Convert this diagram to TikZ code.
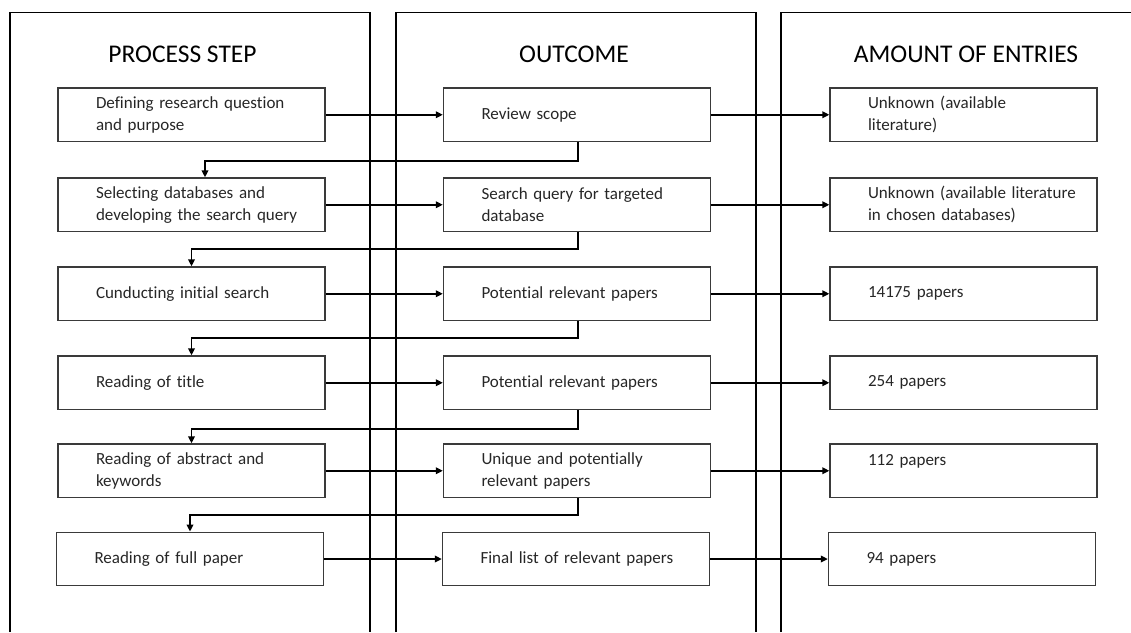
\documentclass[tikz,border=0pt]{standalone}
\usepackage{fontspec}
\setmainfont{Carlito}[Ligatures=NoCommon]
\usetikzlibrary{arrows.meta}
\definecolor{boxline}{HTML}{3A3A3A}
\definecolor{txt}{HTML}{262626}
\newcommand{\bxl}[1]{\mbox{#1}}
\tikzset{
  colline/.style={line width=1.2pt, draw=black},
  heading/.style={font=\fontsize{25.5}{30}\selectfont, text=black, anchor=base, inner sep=0pt},
  stepbox/.style={draw=boxline, line width=1.3pt, minimum height=53.5pt, inner xsep=38pt, inner ysep=0pt,
     text width=191pt, align=left, font=\fontsize{17}{22}\selectfont, text=txt},
  conn/.style={line width=1.7pt, draw=black, -{Triangle[length=7pt,width=6.5pt]}},
}
\begin{document}
\begin{tikzpicture}[x=1pt,y=-1pt]
\useasboundingbox (0,0) rectangle (1131,632);
% columns
\draw[colline] (10,632) -- (10,12.7) -- (370,12.7) -- (370,632);
\draw[colline] (396,632) -- (396,12.7) -- (756,12.7) -- (756,632);
\draw[colline] (781,632) -- (781,12.7) -- (1135,12.7);
% headings
\node[heading] (h1) at (182.5,62) {PROCESS STEP};
\node[heading] (h2) at (574,62) {OUTCOME};
\node[heading] (h3) at (966,62) {AMOUNT OF ENTRIES};
% left boxes
\node[stepbox] (l1) at (191.5,114.75) {\bxl{Defining research question}\\\bxl{and purpose}};
\node[stepbox] (l2) at (191.5,204.75) {\bxl{Selecting databases and}\\\bxl{developing the search query}};
\node[stepbox] (l3) at (191.5,293.75) {\bxl{Cunducting initial search}};
\node[stepbox] (l4) at (191.5,382.75) {\bxl{Reading of title}};
\node[stepbox] (l5) at (191.5,470.75) {\bxl{Reading of abstract and}\\\bxl{keywords}};
\node[stepbox] (l6) at (190,559) {\bxl{Reading of full paper}};
% middle boxes
\node[stepbox] (m1) at (577,114.75) {\bxl{Review scope}};
\node[stepbox] (m2) at (577,204.75) {\bxl{Search query for targeted}\\\bxl{database}};
\node[stepbox] (m3) at (577,293.75) {\bxl{Potential relevant papers}};
\node[stepbox] (m4) at (577,382.75) {\bxl{Potential relevant papers}};
\node[stepbox] (m5) at (577,470.75) {\bxl{Unique and potentially}\\\bxl{relevant papers}};
\node[stepbox] (m6) at (576,559) {\bxl{Final list of relevant papers}};
% right boxes
\node[stepbox] (r1) at (963.5,114.75) {\bxl{Unknown (available}\\\bxl{literature)}};
\node[stepbox] (r2) at (963.5,204.75) {\bxl{Unknown (available literature}\\\bxl{in chosen databases)}};
\node[stepbox] (r3) at (963.5,293.75) {\bxl{14175 papers}};
\node[stepbox] (r4) at (963.5,382.75) {\bxl{254 papers}};
\node[stepbox] (r5) at (963.5,470.75) {\bxl{112 papers}\\\bxl{}};
\node[stepbox] (r6) at (962,559) {\bxl{94 papers}};
% horizontal arrows
\foreach \i in {1,...,6}{
  \draw[conn] (l\i.east) -- (m\i.west);
  \draw[conn] (m\i.east) -- (r\i.west);
}
% return connectors
\draw[conn] ([xshift=1pt]m1.south) -- ++(0,18.5) -| ([xshift=13.5pt]l2.north);
\draw[conn] ([xshift=1pt]m2.south) -- ++(0,17) -| (l3.north);
\draw[conn] ([xshift=1pt]m3.south) -- ++(0,17) -| (l4.north);
\draw[conn] ([xshift=1pt]m4.south) -- ++(0,19) -| (l5.north);
\draw[conn] ([xshift=1pt]m5.south) -- ++(0,17) -| (l6.north);
\end{tikzpicture}
\end{document}
